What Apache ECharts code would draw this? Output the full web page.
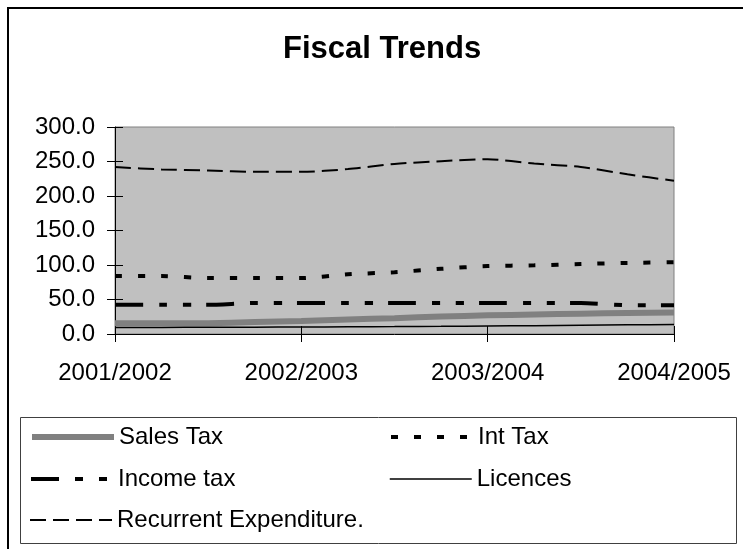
<!DOCTYPE html>
<html>
<head>
<meta charset="utf-8">
<script src="https://cdn.jsdelivr.net/npm/echarts@6/dist/echarts.min.js"></script>
<style>
html,body{margin:0;padding:0;background:#fff;}
#c{width:743px;height:549px;}
</style>
</head>
<body>
<div id="c"></div>
<script>
// Periods (quarterly points); only every 4th is labelled on the axis
var periods = ['2001/2002','','','','2002/2003','','','','2003/2004','','','','2004/2005'];
var yTicks = [0, 50, 100, 150, 200, 250, 300];

var salesTax   = [15.4, 15.4, 15.6, 17.3, 19.0, 21.0, 23.0, 25.2, 27.0, 28.2, 29.4, 30.4, 31.3];
var intTax     = [84, 84, 81, 81, 81, 86.5, 89.5, 94.5, 98.5, 99.5, 101.4, 103, 104];
var incomeTax  = [42.3, 42.3, 42.3, 45, 45, 45, 45, 45, 45, 45, 45, 41.8, 41.8];
var licences   = [9.5, 9.6, 9.7, 9.9, 10.1, 10.4, 10.7, 11.1, 11.6, 12.1, 12.7, 13.3, 13.9];
var recurrent  = [242, 238.5, 237, 235, 235, 239, 246.5, 250.5, 253.3, 247, 242, 231.5, 222];

var FONT = 'Liberation Sans, Arial, sans-serif';
var chart = echarts.init(document.getElementById('c'), null, {renderer: 'canvas'});

var styles = {
  'Sales Tax': {color: '#808080', width: 6, type: 'solid'},
  'Int Tax': {color: '#000', width: 4, type: [7, 16]},
  'Income tax': {color: '#000', width: 4, type: [28, 16, 8, 16, 8, 15]},
  'Licences': {color: '#000', width: 1.5, type: 'solid'},
  'Recurrent Expenditure.': {color: '#000', width: 2, type: [16, 7]}
};

function legendAt(name, left, centerY) {
  var s = styles[name];
  return {
    data: [name],
    left: left,
    top: centerY - 12,
    padding: 0,
    itemWidth: 82,
    itemHeight: 14,
    itemGap: 0,
    selectedMode: false,
    itemStyle: {opacity: 0},
    lineStyle: {color: s.color, width: s.width, type: s.type, opacity: 1},
    textStyle: {fontFamily: FONT, fontSize: 24, color: '#000'}
  };
}

function lineSeries(name, data, smooth) {
  var s = styles[name];
  return {name: name, type: 'line', data: data, symbol: 'none', smooth: smooth,
    xAxisIndex: 0, yAxisIndex: 0,
    lineStyle: {color: s.color, width: s.width, type: s.type}, itemStyle: {color: s.color}};
}

var option = {
  animation: false,
  backgroundColor: '#fff',
  title: {
    text: 'Fiscal Trends',
    left: 283,
    top: 34,
    padding: 0,
    textStyle: {fontFamily: FONT, fontSize: 31, fontWeight: 'bold', color: '#000'}
  },
  graphic: [
    {type: 'rect', shape: {x: 8, y: 8, width: 800, height: 600}, style: {fill: 'none', stroke: '#000', lineWidth: 2}, z: -10, silent: true},
    {type: 'rect', shape: {x: 20.5, y: 417.5, width: 716, height: 126}, style: {fill: 'none', stroke: '#404040', lineWidth: 1}, z: -10, silent: true}
  ],
  legend: [
    legendAt('Sales Tax', 29, 437),
    legendAt('Int Tax', 389, 437),
    legendAt('Income tax', 29, 479),
    legendAt('Licences', 389, 479),
    legendAt('Recurrent Expenditure.', 29, 520)
  ],
  grid: {
    left: 115, right: 69, top: 127, bottom: 215,
    show: true, backgroundColor: '#C0C0C0', borderColor: '#808080', borderWidth: 1
  },
  xAxis: [{
    type: 'category',
    data: periods,
    boundaryGap: false,
    axisLine: {lineStyle: {color: '#000', width: 1}},
    axisTick: {show: true, interval: 3, length: 8, lineStyle: {color: '#000'}},
    axisLabel: {interval: 3, margin: 27, fontFamily: FONT, fontSize: 24, color: '#000'},
    splitLine: {show: false}
  }, {
    // companion axis: draws the upper half of the crossing tick marks
    type: 'category',
    data: periods,
    boundaryGap: false,
    position: 'top',
    offset: -207,
    axisLine: {show: false},
    axisTick: {show: true, interval: 3, length: 8, lineStyle: {color: '#000'}},
    axisLabel: {show: false},
    splitLine: {show: false}
  }],
  yAxis: [{
    type: 'value',
    min: 0, max: 300, interval: 50,
    axisLine: {show: true, lineStyle: {color: '#000', width: 1}},
    axisTick: {show: true, length: 8, lineStyle: {color: '#000'}},
    axisLabel: {margin: 20, fontFamily: FONT, fontSize: 24, color: '#000',
      formatter: function (v) { return v.toFixed(1); }},
    splitLine: {show: false}
  }, {
    // companion axis: draws the inner half of the crossing tick marks
    type: 'value',
    min: 0, max: 300, interval: 50,
    position: 'right',
    offset: -559,
    axisLine: {show: false},
    axisTick: {show: true, length: 8, lineStyle: {color: '#000'}},
    axisLabel: {show: false},
    splitLine: {show: false}
  }],
  series: [
    lineSeries('Sales Tax', salesTax, 0.2),
    lineSeries('Int Tax', intTax, 0.2),
    lineSeries('Income tax', incomeTax, 0.2),
    lineSeries('Licences', licences, 0.2),
    lineSeries('Recurrent Expenditure.', recurrent, 0.25)
  ]
};
chart.setOption(option);
</script>
</body>
</html>
